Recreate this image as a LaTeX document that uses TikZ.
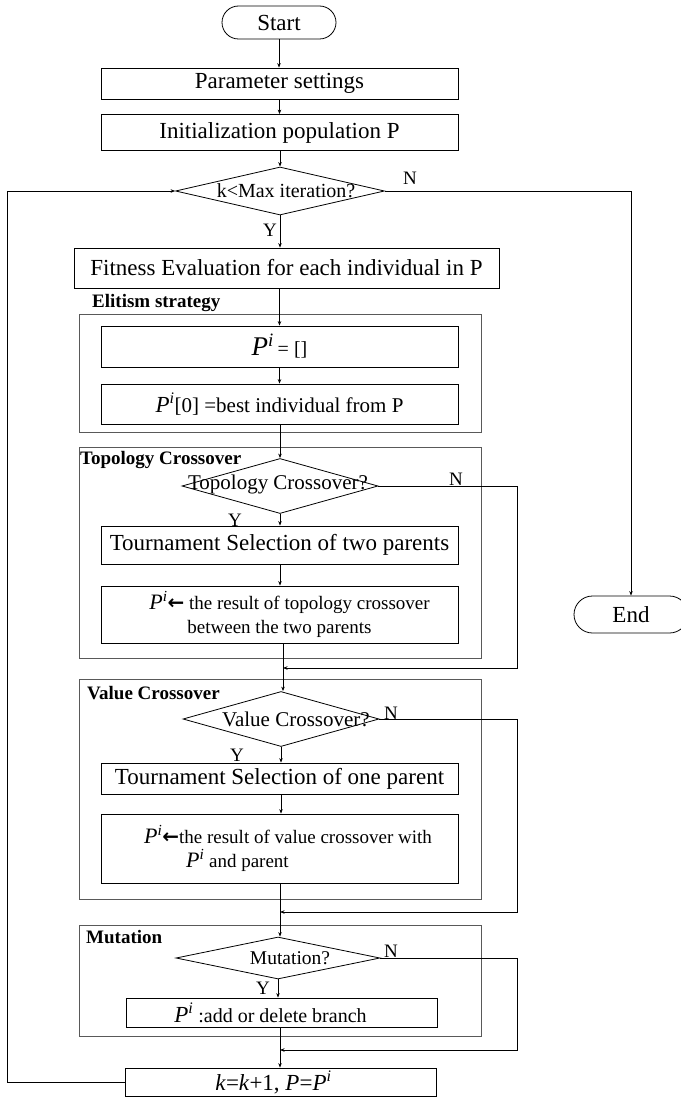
\documentclass[tikz,border=0pt]{standalone}
\usepackage{fontspec}
\setmainfont{Liberation Serif}
\newfontfamily\arrowfont{DejaVu Sans}
\usetikzlibrary{shapes.geometric,shapes.misc,arrows.meta}

% font size helper, the italic P with superscript i, and the assignment arrow
\newcommand\fs[2]{\fontsize{#1}{#2}\selectfont}
\newcommand\Pup[1]{{\fontsize{#1}{#1}\selectfont\textit{P}\textsuperscript{\textit{i}}}}
\newcommand\getsarrow{{\arrowfont\bfseries\fontsize{20}{20}\selectfont ←}}

\begin{document}
\begin{tikzpicture}[x=1pt,y=-1pt,
  box/.style={draw,line width=0.8pt,inner sep=0pt,font=\fs{23}{27}},
  term/.style={draw,rounded rectangle,line width=0.8pt,inner sep=0pt,font=\fs{23}{27}},
  dec/.style={draw,diamond,inner sep=0pt,line width=0.8pt},
  dtxt/.style={inner sep=0pt},
  grp/.style={draw=black!65,line width=0.7pt,inner sep=0pt,anchor=north west},
  grplab/.style={font=\bfseries\fs{19}{22},anchor=west,inner sep=0pt},
  yn/.style={font=\fs{19}{22},inner sep=0pt},
  flow/.style={line width=0.7pt},
  arr/.style={flow,-{Stealth[length=4.5pt,width=3.5pt]}}]
\useasboundingbox (0,0) rectangle (680,1097);

% ---- groups ----
\node[grp,minimum width=402,minimum height=118] (gElite) at (79,314) {};
\node[grp,minimum width=402,minimum height=211] (gTopo) at (79,447) {};
\node[grp,minimum width=402,minimum height=220] (gValue) at (79,679) {};
\node[grp,minimum width=402,minimum height=111] (gMut) at (79,925) {};

\node[grplab] (lElite) at (92,303) {Elitism strategy};
\node[grplab] (lTopo) at (80,460) {Topology Crossover};
\node[grplab] (lValue) at (87,693) {Value Crossover};
\node[grplab] (lMut) at (86,937) {Mutation};

% ---- terminals ----
\node[term,minimum width=114,minimum height=33] (start) at (279,22.5) {Start};
\node[term,minimum width=114,minimum height=37] (end) at (631,614.5) {End};

% ---- main column ----
\node[box,minimum width=357,minimum height=31] (param) at (279.5,83.5) {Parameter settings};
\node[box,minimum width=357,minimum height=36] (init) at (279.5,132.5) {Initialization population P};
\node[dec,minimum width=209,minimum height=48] (d1) at (280,191) {};
\node[dtxt,font=\fs{20}{24}] (d1t) at (286,191) {k<Max iteration?};
\node[box,minimum width=425,minimum height=40] (fit) at (286.5,268) {Fitness Evaluation for each individual in P};

% elitism
\node[box,minimum width=357,minimum height=41] (pe) at (279.5,346.5)
  {\Pup{27}\,{\fs{20}{24}= []}};
\node[box,minimum width=357,minimum height=40,font=\fs{21}{25}] (pbest) at (279.5,404)
  {\Pup{23}[0] =best individual from P};

% topology crossover
\node[dec,minimum width=196,minimum height=55] (d2) at (280,486) {};
\node[dtxt,font=\fs{21}{25}] (d2t) at (278,484) {Topology Crossover?};
\node[box,minimum width=357,minimum height=38] (ts2) at (279.5,545) {Tournament Selection of two parents};
\node[box,minimum width=357,minimum height=57,align=center,font=\fs{19}{24}] (pt) at (279.5,614.5)
  {\hspace*{20pt}\Pup{22}\getsarrow\ the result of topology crossover\\between the two parents};

% value crossover
\node[dec,minimum width=196,minimum height=55] (d3) at (281,719) {};
\node[dtxt,font=\fs{21}{25}] (d3t) at (296,719) {Value Crossover?};
\node[box,minimum width=357,minimum height=31] (ts1) at (279.5,778.5) {Tournament Selection of one parent};
\node[box,minimum width=357,minimum height=69,align=left,font=\fs{19}{24}] (pv) at (279.5,848.5)
  {\hspace*{17pt}\Pup{22}\getsarrow the result of value crossover with\\\hspace*{59pt}\Pup{22} and parent};

% mutation
\node[dec,minimum width=204,minimum height=42] (d4) at (278,958) {};
\node[dtxt,font=\fs{19.5}{23}] (d4t) at (290,958) {Mutation?};
\node[box,minimum width=311,minimum height=29,font=\fs{20}{24}] (padd) at (281.5,1012.5)
  {\Pup{23} :add or delete branch\hspace*{22pt}};

% update
\node[box,minimum width=311,minimum height=28] (kb) at (280.5,1082)
  {\textit{k}=\textit{k}+1, \textit{P}=\Pup{23}\hspace*{14pt}};

% ---- Y / N labels ----
\node[yn] (y1) at (270,230) {Y};
\node[yn] (n1) at (410,178) {N};
\node[yn] (y2) at (235,520) {Y};
\node[yn] (n2) at (456,479) {N};
\node[yn] (y3) at (237,755) {Y};
\node[yn] (n3) at (391,713) {N};
\node[yn] (y4) at (263,988) {Y};
\node[yn] (n4) at (391,951) {N};

% ---- routing points ----
\coordinate (rx) at (517.5,0);
\coordinate (lp) at (7,0);
\coordinate (m1) at (283,668);
\coordinate (m2) at (280,912);
\coordinate (m3) at (280,1050);

% ---- connectors ----
\draw[arr] (start.south) -- (start.south |- param.north);
\draw[arr] (param.south) -- (param.south |- init.north);
\draw[arr] (init.south -| d1.north) -- (d1.north);
\draw[arr] (d1.south) -- (d1.south |- fit.north);
\draw[arr] (d1.east) -- (d1.east -| end.north) -- (end.north);
\draw[arr] (fit.south -| pe.north) -- (pe.north);
\draw[arr] (pe.south) -- (pbest.north);
\draw[arr] (pbest.south -| d2.north) -- (d2.north);
\draw[arr] (d2.south) -- (d2.south |- ts2.north);
\draw[arr] (ts2.south -| d2.south) -- (d2.south |- pt.north);
\draw[flow] (d2.east) -- (d2.east -| rx) -- (rx |- m1);
\draw[arr] (rx |- m1) -- (m1);
\draw[arr] (pt.south -| m1) -- (m1 |- d3.north);
\draw[arr] (d3.south) -- (d3.south |- ts1.north);
\draw[arr] (ts1.south -| d3.south) -- (d3.south |- pv.north);
\draw[flow] (d3.east) -- (d3.east -| rx) -- (rx |- m2);
\draw[arr] (rx |- m2) -- (m2);
\draw[arr] (pv.south -| m2) -- (m2 |- d4.north);
\draw[arr] (d4.south) -- (d4.south |- padd.north);
\draw[flow] (d4.east) -- (d4.east -| rx) -- (rx |- m3);
\draw[arr] (rx |- m3) -- (m3);
\draw[arr] (padd.south -| m3) -- (m3 |- kb.north);
\draw[arr] (kb.west) -- (kb.west -| lp) -- (lp |- d1.west) -- (d1.west);
\end{tikzpicture}
\end{document}
